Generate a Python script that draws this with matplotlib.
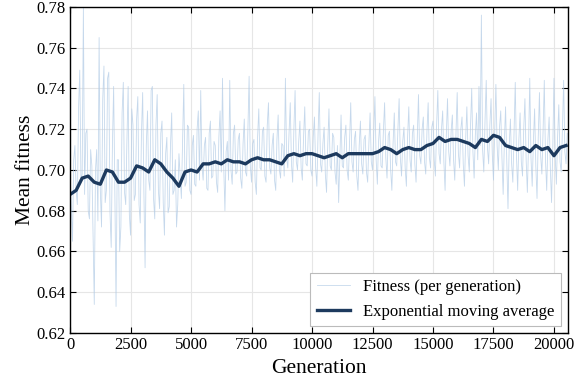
import numpy as np
import matplotlib
matplotlib.use("Agg")
import matplotlib.pyplot as plt

# Valores (fitness por generacion, cada 50 generaciones)
fitness_gen = list(range(0, 20600, 50))
fitness = [
    0.700, 0.682, 0.665, 0.705, 0.712, 0.690, 0.683, 0.730, 0.749, 0.695, 0.698, 0.780, 0.688, 0.718, 0.720, 0.680, 0.676, 0.710, 0.702, 0.668,
    0.634, 0.700, 0.710, 0.675, 0.765, 0.690, 0.672, 0.735, 0.751, 0.684, 0.690, 0.745, 0.748, 0.679, 0.662, 0.712, 0.741, 0.690, 0.633, 0.705,
    0.705, 0.660, 0.672, 0.728, 0.743, 0.689, 0.683, 0.715, 0.741, 0.678, 0.668, 0.730, 0.722, 0.685, 0.688, 0.725, 0.736, 0.683, 0.674, 0.718,
    0.738, 0.690, 0.652, 0.712, 0.729, 0.695, 0.690, 0.739, 0.741, 0.686, 0.676, 0.722, 0.737, 0.690, 0.681, 0.718, 0.724, 0.684, 0.668, 0.708,
    0.716, 0.679, 0.682, 0.712, 0.728, 0.688, 0.690, 0.705, 0.672, 0.683, 0.708, 0.697, 0.686, 0.715, 0.742, 0.692, 0.694, 0.722, 0.721, 0.690,
    0.688, 0.712, 0.717, 0.693, 0.692, 0.720, 0.729, 0.695, 0.739, 0.702, 0.695, 0.712, 0.716, 0.691, 0.690, 0.718, 0.724, 0.696, 0.697, 0.714,
    0.712, 0.694, 0.689, 0.716, 0.729, 0.699, 0.745, 0.702, 0.680, 0.709, 0.714, 0.695, 0.744, 0.700, 0.693, 0.718, 0.722, 0.698, 0.699, 0.715,
    0.718, 0.696, 0.691, 0.713, 0.725, 0.699, 0.697, 0.720, 0.746, 0.702, 0.694, 0.713, 0.715, 0.694, 0.688, 0.716, 0.730, 0.701, 0.700, 0.719,
    0.721, 0.697, 0.694, 0.722, 0.733, 0.701, 0.698, 0.712, 0.718, 0.695, 0.690, 0.715, 0.727, 0.700, 0.696, 0.713, 0.712, 0.697, 0.745, 0.706,
    0.701, 0.718, 0.733, 0.703, 0.694, 0.720, 0.739, 0.704, 0.700, 0.714, 0.724, 0.701, 0.695, 0.716, 0.731, 0.703, 0.702, 0.719, 0.720, 0.700,
    0.697, 0.716, 0.726, 0.701, 0.692, 0.718, 0.738, 0.703, 0.699, 0.713, 0.721, 0.698, 0.689, 0.712, 0.730, 0.702, 0.700, 0.718, 0.716, 0.699,
    0.693, 0.712, 0.684, 0.706, 0.727, 0.702, 0.701, 0.716, 0.722, 0.700, 0.695, 0.713, 0.733, 0.704, 0.699, 0.715, 0.719, 0.697, 0.690, 0.712,
    0.724, 0.703, 0.698, 0.715, 0.717, 0.699, 0.694, 0.713, 0.728, 0.704, 0.700, 0.718, 0.736, 0.705, 0.693, 0.714, 0.723, 0.702, 0.701, 0.719,
    0.733, 0.706, 0.696, 0.717, 0.719, 0.700, 0.690, 0.713, 0.728, 0.704, 0.702, 0.720, 0.735, 0.706, 0.697, 0.714, 0.721, 0.701, 0.692, 0.716,
    0.731, 0.705, 0.699, 0.718, 0.722, 0.703, 0.694, 0.716, 0.737, 0.707, 0.703, 0.720, 0.726, 0.704, 0.698, 0.719, 0.733, 0.706, 0.701, 0.721,
    0.724, 0.705, 0.697, 0.722, 0.739, 0.708, 0.703, 0.720, 0.729, 0.704, 0.690, 0.717, 0.735, 0.709, 0.702, 0.719, 0.727, 0.705, 0.695, 0.718,
    0.738, 0.708, 0.701, 0.720, 0.726, 0.703, 0.692, 0.715, 0.731, 0.707, 0.699, 0.721, 0.740, 0.709, 0.696, 0.717, 0.728, 0.705, 0.741, 0.712,
    0.776, 0.710, 0.699, 0.724, 0.744, 0.711, 0.703, 0.722, 0.735, 0.708, 0.695, 0.719, 0.742, 0.712, 0.700, 0.721, 0.729, 0.706, 0.688, 0.714,
    0.731, 0.704, 0.681, 0.712, 0.725, 0.703, 0.694, 0.718, 0.743, 0.707, 0.690, 0.715, 0.728, 0.704, 0.697, 0.720, 0.735, 0.705, 0.689, 0.713,
    0.745, 0.706, 0.692, 0.714, 0.730, 0.702, 0.686, 0.716, 0.738, 0.707, 0.698, 0.719, 0.744, 0.705, 0.690, 0.715, 0.726, 0.701, 0.684, 0.710,
    0.745, 0.707, 0.693, 0.716, 0.732, 0.704, 0.699, 0.720, 0.744, 0.709, 0.703, 0.718,
]

# Media movil exponencial (cada 250 generaciones)
ema_gen = list(range(0, 20750, 250))
ema = [
    0.688, 0.690, 0.696, 0.697, 0.694, 0.693, 0.700, 0.699, 0.694, 0.694,
    0.696, 0.702, 0.701, 0.699, 0.705, 0.703, 0.699, 0.696, 0.692, 0.699,
    0.700, 0.699, 0.703, 0.703, 0.704, 0.703, 0.705, 0.704, 0.704, 0.703,
    0.705, 0.706, 0.705, 0.705, 0.704, 0.703, 0.707, 0.708, 0.707, 0.708,
    0.708, 0.707, 0.706, 0.707, 0.708, 0.706, 0.708, 0.708, 0.708, 0.708,
    0.708, 0.709, 0.711, 0.710, 0.708, 0.710, 0.711, 0.710, 0.710, 0.712,
    0.713, 0.716, 0.714, 0.715, 0.715, 0.714, 0.713, 0.711, 0.715, 0.714,
    0.717, 0.716, 0.712, 0.711, 0.710, 0.711, 0.709, 0.712, 0.710, 0.711,
    0.707, 0.711, 0.712,
]

plt.rcParams['font.family'] = ['Liberation Serif', 'DejaVu Serif']

fig = plt.figure(figsize=(5.84, 3.8), dpi=100)
ax = fig.add_axes([0.12, 0.1237, 0.8526, 0.858])

ax.plot(fitness_gen, fitness, color='#b3cce6', linewidth=0.6, alpha=0.75,
        label='Fitness (per generation)')
ax.plot(ema_gen, ema, color='#1d3a5e', linewidth=2.4,
        label='Exponential moving average')

ax.set_xlim(0, 20580)
ax.set_ylim(0.62, 0.78)
ax.set_xticks(np.arange(0, 20001, 2500))
ax.set_yticks(np.arange(0.62, 0.781, 0.02))
ax.yaxis.set_major_formatter(matplotlib.ticker.FormatStrFormatter('%.2f'))

ax.grid(True, color='#e6e6e6', linewidth=0.8)
ax.set_axisbelow(True)
ax.tick_params(direction='in', top=True, right=True, labelsize=12, length=4, pad=3)
for s in ax.spines.values():
    s.set_linewidth(1.0)

ax.set_xlabel('Generation', fontsize=15.5, labelpad=4)
ax.set_ylabel('Mean fitness', fontsize=15.5, labelpad=1)

leg = ax.legend(loc='lower right', fontsize=12, fancybox=False,
                edgecolor='#bbbbbb', framealpha=1.0, borderaxespad=0.4)
leg.get_frame().set_linewidth(0.8)

fig.savefig('out.png', dpi=100)
